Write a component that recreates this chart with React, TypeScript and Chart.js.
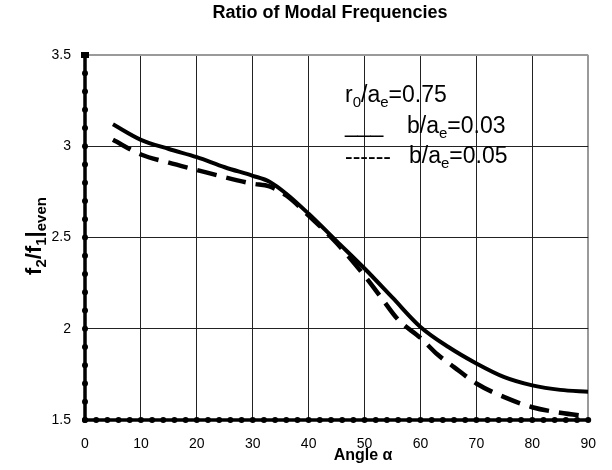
import React, { useEffect, useRef } from "react";
import { Chart, registerables } from "chart.js";

Chart.register(...registerables);

// ---------- data ----------
const titleText = "Ratio of Modal Frequencies";
const xAxisTitle = "Angle α";

const xTickValues = [0, 10, 20, 30, 40, 50, 60, 70, 80, 90];
const xTickLabels = ["0", "10", "20", "30", "40", "50", "60", "70", "80", "90"];
const yTickValues = [1.5, 2, 2.5, 3, 3.5];
const yTickLabels = ["1.5", "2", "2.5", "3", "3.5"];

// b/ae = 0.03 (solid)
const anglesB003 = [5, 10, 15, 20, 25, 30, 33, 36, 40, 45, 50, 55, 60, 65, 70, 75, 80, 85, 90];
const ratioB003 = [3.12, 3.035, 2.985, 2.94, 2.885, 2.838, 2.806, 2.74, 2.63, 2.48, 2.33, 2.17, 2.01, 1.9, 1.81, 1.735, 1.69, 1.665, 1.655];

// b/ae = 0.05 (dashed)
const anglesB005 = [5, 10, 15, 20, 25, 30, 33, 36, 40, 45, 50, 53, 56, 60, 63, 66, 70, 75, 80, 85, 90];
const ratioB005 = [3.035, 2.955, 2.91, 2.87, 2.83, 2.795, 2.78, 2.73, 2.62, 2.47, 2.29, 2.17, 2.05, 1.95, 1.86, 1.79, 1.7, 1.625, 1.57, 1.54, 1.52];

const X_MIN = 0, X_MAX = 90, X_STEP = 10, X_MINOR = 2;
const Y_MIN = 1.5, Y_MAX = 3.5, Y_STEP = 0.5, Y_MINOR = 0.1;

type Run = { t: string; sub?: boolean };
const legendLine1: Run[] = [{ t: "r" }, { t: "0", sub: true }, { t: "/a" }, { t: "e", sub: true }, { t: "=0.75" }];
const legendSymbol2 = "___";
const legendLine2: Run[] = [{ t: "b/a" }, { t: "e", sub: true }, { t: "=0.03" }];
const legendSymbol3 = "------";
const legendLine3: Run[] = [{ t: "b/a" }, { t: "e", sub: true }, { t: "=0.05" }];
const yAxisTitle: Run[] = [{ t: "f" }, { t: "2", sub: true }, { t: "/f" }, { t: "1", sub: true }, { t: "|" }, { t: "even", sub: true }];

const FONT = "'Liberation Sans', Arial, Helvetica, sans-serif";

function runsWidth(ctx: CanvasRenderingContext2D, runs: Run[], size: number, subSize: number, weight: string) {
  let w = 0;
  for (const r of runs) {
    ctx.font = `${weight} ${r.sub ? subSize : size}px ${FONT}`;
    w += ctx.measureText(r.t).width;
  }
  return w;
}

function drawRuns(ctx: CanvasRenderingContext2D, runs: Run[], x: number, y: number, size: number, subSize: number, weight: string, subOffset: number) {
  let cx = x;
  for (const r of runs) {
    ctx.font = `${weight} ${r.sub ? subSize : size}px ${FONT}`;
    ctx.fillText(r.t, cx, y + (r.sub ? subOffset : 0));
    cx += ctx.measureText(r.t).width;
  }
  return cx;
}

const decorPlugin = {
  id: "decor",
  afterDraw(chart: any) {
    const ctx: CanvasRenderingContext2D = chart.ctx;
    const { left, right, top, bottom } = chart.chartArea;
    const xs = chart.scales.x;
    const ys = chart.scales.y;
    ctx.save();
    // axes
    ctx.strokeStyle = "#000";
    ctx.fillStyle = "#000";
    ctx.lineWidth = 3.5;
    ctx.lineCap = "square";
    ctx.beginPath();
    ctx.moveTo(left, top);
    ctx.lineTo(left, bottom);
    ctx.lineTo(right, bottom);
    ctx.stroke();
    const nY = Math.round((Y_MAX - Y_MIN) / Y_MINOR);
    for (let i = 0; i <= nY; i++) {
      const py = ys.getPixelForValue(Y_MIN + i * Y_MINOR);
      ctx.beginPath();
      ctx.arc(left, py, 3, 0, Math.PI * 2);
      ctx.fill();
    }
    const nX = Math.round((X_MAX - X_MIN) / X_MINOR);
    for (let i = 0; i <= nX; i++) {
      const px = xs.getPixelForValue(X_MIN + i * X_MINOR);
      ctx.beginPath();
      ctx.arc(px, bottom, 3, 0, Math.PI * 2);
      ctx.fill();
    }
    ctx.fillRect(left - 4, top - 3, 8, 6);

    // title
    ctx.textBaseline = "alphabetic";
    ctx.textAlign = "center";
    ctx.font = `bold 18px ${FONT}`;
    ctx.fillText(titleText, 330, 18);

    // x axis title
    ctx.font = `bold 16px ${FONT}`;
    ctx.fillText(xAxisTitle, 363, 460);

    // y axis title (rotated)
    ctx.textAlign = "left";
    const yw = runsWidth(ctx, yAxisTitle, 22, 15, "bold");
    ctx.save();
    ctx.translate(41, 236);
    ctx.rotate(-Math.PI / 2);
    drawRuns(ctx, yAxisTitle, -yw / 2, 0, 22, 15, "bold", 5);
    ctx.restore();

    // legend text
    drawRuns(ctx, legendLine1, 345, 102, 23, 15, "normal", 5);
    ctx.font = `normal 23px ${FONT}`;
    ctx.fillText(legendSymbol2, 345, 132);
    drawRuns(ctx, legendLine2, 407, 133, 23, 15, "normal", 5);
    ctx.font = `normal 23px ${FONT}`;
    ctx.fillText(legendSymbol3, 345, 164);
    drawRuns(ctx, legendLine3, 409, 163, 23, 15, "normal", 5);
    ctx.restore();
  },
};

function labelFor(values: number[], labels: string[], v: number) {
  const i = values.findIndex((t) => Math.abs(t - v) < 1e-6);
  return i >= 0 ? labels[i] : "";
}

export default function App() {
  const ref = useRef<HTMLCanvasElement | null>(null);
  useEffect(() => {
    if (!ref.current) return;
    const chart = new Chart(ref.current, {
      type: "line",
      data: {
        datasets: [
          {
            label: "b/ae=0.03",
            data: anglesB003.map((a, i) => ({ x: a, y: ratioB003[i] })),
            borderColor: "#000",
            borderWidth: 4,
            pointRadius: 0,
            fill: false,
            cubicInterpolationMode: "monotone",
          },
          {
            label: "b/ae=0.05",
            data: anglesB005.map((a, i) => ({ x: a, y: ratioB005[i] })),
            borderColor: "#000",
            borderWidth: 4.5,
            borderDash: [20, 10],
            pointRadius: 0,
            fill: false,
            cubicInterpolationMode: "monotone",
          },
        ],
      },
      options: {
        animation: false,
        responsive: false,
        devicePixelRatio: 1,
        layout: { padding: { left: 0, right: 22, top: 55, bottom: 0 } },
        plugins: { legend: { display: false }, title: { display: false }, tooltip: { enabled: false } },
        scales: {
          x: {
            type: "linear",
            min: X_MIN,
            max: X_MAX,
            afterFit: (s: any) => { s.height = 50; },
            afterBuildTicks: (s: any) => { s.ticks = xTickValues.map((v) => ({ value: v })); },
            ticks: {
              stepSize: X_STEP,
              padding: 16,
              color: "#000",
              maxRotation: 0,
              font: { family: FONT, size: 14 },
              callback: (v: any) => labelFor(xTickValues, xTickLabels, Number(v)),
            },
            grid: {
              drawTicks: false,
              color: (c: any) => (c.tick && c.tick.value === X_MAX ? "#9a9a9a" : "#222"),
              lineWidth: (c: any) => (c.tick && c.tick.value === X_MAX ? 2 : 1),
            },
            border: { display: false },
          },
          y: {
            type: "linear",
            min: Y_MIN,
            max: Y_MAX,
            afterFit: (s: any) => { s.width = 85; },
            afterBuildTicks: (s: any) => { s.ticks = yTickValues.map((v) => ({ value: v })); },
            ticks: {
              stepSize: Y_STEP,
              padding: 14,
              color: "#000",
              font: { family: FONT, size: 14 },
              callback: (v: any) => labelFor(yTickValues, yTickLabels, Number(v)),
            },
            grid: {
              drawTicks: false,
              color: (c: any) => (c.tick && c.tick.value === Y_MAX ? "#9a9a9a" : "#222"),
              lineWidth: (c: any) => (c.tick && c.tick.value === Y_MAX ? 2 : 1),
            },
            border: { display: false },
          },
        },
      },
      plugins: [decorPlugin],
    } as any);
    return () => chart.destroy();
  }, []);
  return (
    <div style={{ position: "absolute", left: 0, top: 0, width: 612, height: 470, background: "#fff" }}>
      <canvas ref={ref} width={612} height={470} style={{ display: "block", width: 612, height: 470 }} />
    </div>
  );
}
